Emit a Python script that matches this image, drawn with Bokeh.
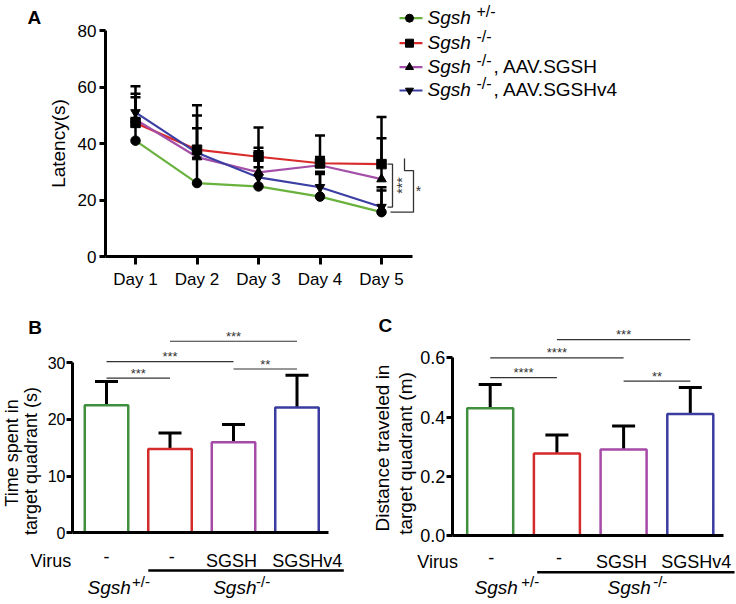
import math
from bokeh.plotting import figure
from bokeh.layouts import column, row
from bokeh.models import (ColumnDataSource, FixedTicker, Label, Whisker, TeeHead,
                          Range1d, NumeralTickFormatter)
from bokeh.embed import file_html
from bokeh.resources import INLINE

FONT = "Liberation Sans"
INK = "black"
SIG = "#333333"

# ---------------- data ----------------
days = ["Day 1", "Day 2", "Day 3", "Day 4", "Day 5"]
day_x = [1, 2, 3, 4, 5]
het_mean = [41.0, 26.0, 24.8, 21.2, 15.7]
het_err = [8.0, 9.0, 6.8, 8.0, 7.7]
ko_mean = [47.3, 37.8, 35.3, 33.0, 32.7]
ko_err = [9.1, 15.7, 10.4, 9.8, 16.7]
sgsh_mean = [48.5, 35.2, 29.8, 32.3, 27.4]
sgsh_err = [9.1, 10.2, 8.7, 2.9, 14.5]
v4_mean = [51.0, 36.7, 28.0, 24.5, 17.5]
v4_err = [9.3, 13.2, 9.3, 5.5, 7.0]

bar_x = [1, 2, 3, 4]
virus_labels = ["-", "-", "SGSH", "SGSHv4"]
time_mean = [22.5, 14.8, 16.0, 22.1]
time_err = [4.2, 2.8, 3.1, 5.7]
dist_mean = [0.430, 0.277, 0.290, 0.410]
dist_err = [0.080, 0.062, 0.080, 0.090]

time_sig = [(0, 1, "***"), (0, 2, "***"), (1, 3, "***"), (2, 3, "**")]
time_sig_y = [27.3, 30.2, 33.8, 28.9]
dist_sig = [(0, 1, "****"), (0, 2, "****"), (1, 3, "***"), (2, 3, "**")]
dist_sig_y = [0.533, 0.600, 0.661, 0.521]

line_colors = ["#6ab23e", "#d92b2b", "#a550a8", "#3b3fa3"]
bar_colors = ["#3f8f3f", "#d42a2a", "#a64aa8", "#3a3ca0"]
markers = ["circle", "square", "triangle", "inverted_triangle"]


def make_fig(W, H, xr, yr):
    p = figure(width=W, height=H, output_backend="svg", toolbar_location=None,
               x_range=Range1d(*xr), y_range=Range1d(*yr),
               min_border=0, min_border_left=0, min_border_right=0,
               min_border_top=0, min_border_bottom=0)
    p.grid.visible = False
    p.outline_line_color = None
    p.background_fill_color = "white"
    p.border_fill_color = "white"
    for axis in p.axis:
        axis.axis_line_width = 3
        axis.axis_line_color = INK
        axis.major_tick_line_width = 3
        axis.major_tick_line_color = INK
        axis.major_tick_in = 0
        axis.minor_tick_line_color = None
        axis.major_label_text_font = FONT
        axis.major_label_text_color = INK
        axis.axis_label_text_font = FONT
        axis.axis_label_text_font_style = "normal"
        axis.axis_label_text_color = INK
    return p


def lab(p, x, y, text, size="18px", align="left", style="normal", angle=0.0,
        color=INK, x_offset=0):
    p.add_layout(Label(x=x, y=y, text=text, text_font=FONT, text_font_size=size,
                       text_align=align, text_baseline="middle", text_font_style=style,
                       angle=angle, text_color=color, x_offset=x_offset))


# ---------------- Panel A (page px 0..736 x 0..290) ----------------
A_W, A_H = 736, 290
A_PX, A_PY = 61.5, 2.825


def ax_(px):
    return 1 + (px - 135) / A_PX


def ay_(py):
    return (256 - py) / A_PY


pA = make_fig(A_W, A_H, (ax_(0), ax_(A_W)), (ay_(A_H), ay_(0)))
pA.xaxis.fixed_location = 0
pA.yaxis.fixed_location = ax_(105)
pA.xaxis.ticker = FixedTicker(ticks=day_x)
pA.xaxis.major_label_overrides = {d: t for d, t in zip(day_x, days)}
pA.xaxis.bounds = (ax_(105), ax_(412))
pA.xaxis.major_tick_out = 8
pA.xaxis.major_label_text_font_size = "17px"
pA.xaxis.major_label_standoff = 5
pA.yaxis.ticker = FixedTicker(ticks=[0, 20, 40, 60, 80])
pA.yaxis.bounds = (0, 80)
pA.yaxis.major_tick_out = 6
pA.yaxis.major_label_standoff = 3
pA.yaxis.major_label_text_font_size = "17px"
pA.yaxis.axis_label = "Latency(s)"
pA.yaxis.axis_label_text_font_size = "19px"
pA.yaxis.axis_label_standoff = 6

series = [(het_mean, het_err), (ko_mean, ko_err), (sgsh_mean, sgsh_err), (v4_mean, v4_err)]
for (m, e), c in zip(series, line_colors):
    pA.line(day_x, m, line_color=c, line_width=2.2)
for (m, e), mk in zip(series, markers):
    src = ColumnDataSource(dict(x=day_x, lo=m, hi=[a + b for a, b in zip(m, e)]))
    pA.add_layout(Whisker(source=src, base="x", lower="lo", upper="hi",
                          line_color=INK, line_width=2.5, lower_head=None,
                          upper_head=TeeHead(size=10, line_width=2.5, line_color=INK)))
    pA.scatter(day_x, m, marker=mk, size=9.5, fill_color=INK, line_color=INK)


def bx(off):
    return day_x[-1] + off / A_PX


ko5, v45, het5 = ko_mean[-1], v4_mean[-1], het_mean[-1]
pA.line([bx(6), bx(11), bx(11), bx(6)], [ko5, ko5, v45, v45],
        line_color=SIG, line_width=1.3)
lab(pA, bx(20), (ko5 + v45) / 2, "***", size="14px", align="center",
    angle=math.pi / 2, color=SIG)
mid2 = ko5 - 2.3
pA.line([bx(23), bx(23), bx(32), bx(32), bx(9)], [ko5 + 2.0, mid2, mid2, het5, het5],
        line_color=SIG, line_width=1.3)
lab(pA, bx(37), (mid2 + het5) / 2, "*", size="14px", align="center", color=SIG)

# legend
legend_rows = [17.7, 42.7, 66.7, 90.0]
sups = ["+/-", "-/-", "-/-", "-/-"]
suffix = ["", "", ", AAV.SGSH", ", AAV.SGSHv4"]
for i in range(4):
    yc = ay_(legend_rows[i])
    pA.line([ax_(399), ax_(422)], [yc, yc], line_color=line_colors[i], line_width=2.2)
    pA.scatter([ax_(409)], [yc], marker=markers[i], size=8, fill_color=INK, line_color=INK)
    lab(pA, ax_(427), ay_(legend_rows[i] - 1), "Sgsh", size="19px", style="italic")
    lab(pA, ax_(476), ay_(legend_rows[i] - 7), sups[i], size="16px")
    if suffix[i]:
        lab(pA, ax_(493), ay_(legend_rows[i] - 1), suffix[i], size="19px")

lab(pA, ax_(27), ay_(17), "A", size="19px", style="bold")


# ---------------- bar panels ----------------
def bar_panel(W, H, org, PX, PY, axis_px, first_center_px, zero_py, axis_end_px,
              bar_w_px, means, errs, yticks, ybound, tick_size, sig, sig_y, fmt=None):
    def fx(px):
        return 1 + (px - first_center_px) / PX

    def fy(py):
        return (zero_py - py) / PY

    p = make_fig(W, H, (fx(org[0]), fx(org[0] + W)), (fy(org[1] + H), fy(org[1])))
    p.xaxis.fixed_location = 0
    p.yaxis.fixed_location = fx(axis_px)
    p.xaxis.ticker = FixedTicker(ticks=[])
    p.xaxis.bounds = (fx(axis_px), fx(axis_end_px))
    p.yaxis.ticker = FixedTicker(ticks=yticks)
    p.yaxis.bounds = (0, ybound)
    p.yaxis.major_tick_out = 6
    p.yaxis.major_label_standoff = 1
    p.yaxis.major_label_text_font_size = tick_size
    if fmt:
        p.yaxis.formatter = NumeralTickFormatter(format=fmt)

    bw = bar_w_px / PX
    p.vbar(x=bar_x, width=bw, top=means, bottom=0, fill_color="white",
           line_color=bar_colors, line_width=2.5)
    src = ColumnDataSource(dict(x=bar_x, lo=means, hi=[a + b for a, b in zip(means, errs)]))
    p.add_layout(Whisker(source=src, base="x", lower="lo", upper="hi", line_color=INK,
                         line_width=3, lower_head=None,
                         upper_head=TeeHead(size=23, line_width=3, line_color=INK)))
    for (i, j, s), yv in zip(sig, sig_y):
        p.segment(x0=[bar_x[i]], y0=[yv], x1=[bar_x[j]], y1=[yv], line_color=SIG,
                  line_width=1.2)
        lab(p, (bar_x[i] + bar_x[j]) / 2, yv + 5 / PY, s, size="13px",
            align="center", color=SIG)
    return p, fx, fy, bw


# Panel B: page x 0..370, y 290..604
pB, bfx, bfy, bbw = bar_panel(370, 314, (0, 290), 63.5, 5.667, 72, 106, 532.3, 328, 43.5,
                              time_mean, time_err, [0, 10, 20, 30], 30, "16px",
                              time_sig, time_sig_y)
lab(pB, bfx(11.5), bfy(452.5), "Time spent in", size="18px", align="center",
    angle=math.pi / 2)
lab(pB, bfx(30.5), bfy(460.5), "target quadrant (s)", size="18px", align="center",
    angle=math.pi / 2)
lab(pB, bfx(27.7), bfy(326.7), "B", size="19px", style="bold")
lab(pB, bfx(30), bfy(560), "Virus", size="18px")
for k, (t, off) in enumerate(zip(virus_labels, [0, 1.7, -2, 10.3])):
    lab(pB, bar_x[k], bfy(556 if t == "-" else 560), t, size="18px", align="center",
        x_offset=off)
yl = bfy(570)
pB.line([bar_x[1] - bbw / 2, bfx(343.3)], [yl, yl], line_color=INK, line_width=2.6)
lab(pB, bfx(87), bfy(587), "Sgsh", size="19px", style="italic")
lab(pB, bfx(131.5), bfy(581), "+/-", size="15px")
lab(pB, bfx(212.7), bfy(587), "Sgsh", size="19px", style="italic")
lab(pB, bfx(255.5), bfy(581), "-/-", size="15px")

# Panel C: page x 370..736, y 290..604
pC, cfx, cfy, cbw = bar_panel(366, 314, (370, 290), 66.7, 296.2, 451.7, 489.7, 535, 722.7,
                              46, dist_mean, dist_err, [0, 0.2, 0.4, 0.6], 0.6, "18px",
                              dist_sig, dist_sig_y, fmt="0.0")
lab(pC, cfx(381.5), cfy(447.5), "Distance traveled in", size="19px", align="center",
    angle=math.pi / 2)
lab(pC, cfx(405), cfy(453), "target quadrant (m)", size="19px", align="center",
    angle=math.pi / 2)
lab(pC, cfx(378), cfy(325), "C", size="19px", style="bold")
lab(pC, cfx(416.7), cfy(561), "Virus", size="18px")
for k, (t, off) in enumerate(zip(virus_labels, [1, 2, -2, 6])):
    lab(pC, bar_x[k], cfy(557 if t == "-" else 561), t, size="18px", align="center",
        x_offset=off)
yl = cfy(571.7)
pC.line([cfx(536.7), cfx(734)], [yl, yl], line_color=INK, line_width=2.6)
lab(pC, cfx(474), cfy(587), "Sgsh", size="19px", style="italic")
lab(pC, cfx(520.7), cfy(581), "+/-", size="15px")
lab(pC, cfx(607), cfy(587), "Sgsh", size="19px", style="italic")
lab(pC, cfx(652.7), cfy(581), "-/-", size="15px")

layout = column(pA, row(pB, pC))
open("out.html", "w").write(file_html(layout, INLINE))
